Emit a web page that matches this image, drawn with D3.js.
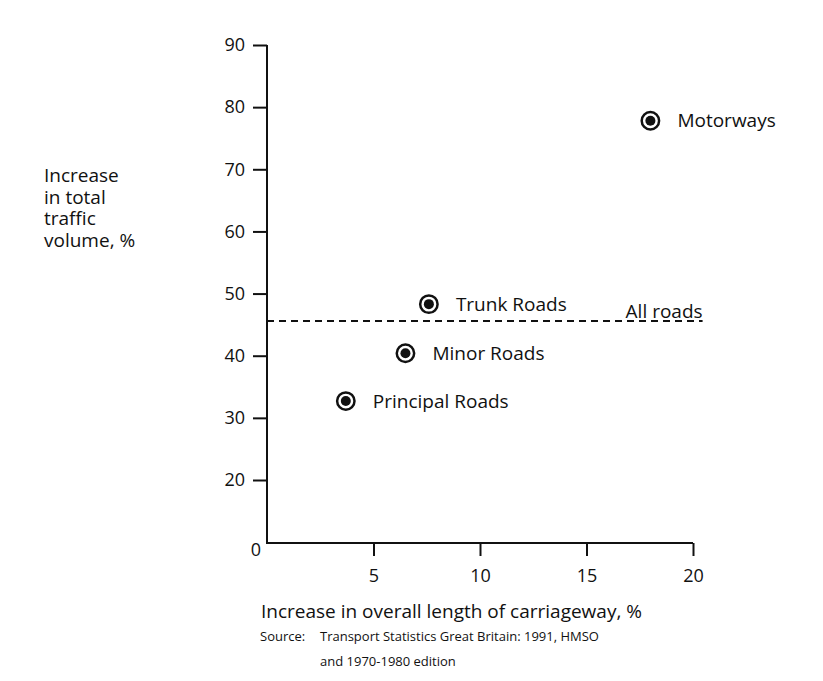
<!DOCTYPE html>
<html>
<head>
<meta charset="utf-8">
<script src="https://cdn.jsdelivr.net/npm/d3@7"></script>
<style>
  body { margin: 0; background: #fff; }
  text { font-family: "Open Sans", "Noto Sans", sans-serif; fill: #111; }
</style>
</head>
<body>
<svg id="chart" width="823" height="681"></svg>
<script>

// road classes and their growth, 1970s-1991
var roads = ["Motorways", "Trunk Roads", "Minor Roads", "Principal Roads"];
var lengthIncrease = [18.0, 7.6, 6.5, 3.7];     // % increase in carriageway length
var trafficIncrease = [77.8, 48.3, 40.4, 32.7]; // % increase in traffic volume
var allRoads = 45.6;                             // all roads, traffic increase

var xTicks = [5, 10, 15, 20];
var yTicks = [20, 30, 40, 50, 60, 70, 80, 90];
var yTitle = ["Increase", "in total", "traffic", "volume, %"];
var xTitle = "Increase in overall length of carriageway, %";
var sourceLines = ["Transport Statistics Great Britain: 1991, HMSO", "and 1970-1980 edition"];

var svg = d3.select("#chart");

/* Scales: the y axis is broken between 0 and 20 */
var x = d3.scaleLinear().domain([0, 20]).range([267, 693]);
var y = d3.scaleLinear().domain([0, 20, 90]).range([543, 480, 45]);

/* Axes */
var yAxis = svg.append("g")
  .attr("transform", "translate(" + x(0) + ",0)")
  .call(d3.axisLeft(y).tickValues(yTicks).tickSize(14).tickPadding(8).tickSizeOuter(0));

var xAxis = svg.append("g")
  .attr("transform", "translate(0," + y(0) + ")")
  .call(d3.axisBottom(x).tickValues(xTicks).tickSize(13).tickPadding(13).tickSizeOuter(0));

[yAxis, xAxis].forEach(function(g) {
  g.selectAll(".domain").attr("stroke", "#111").attr("stroke-width", 2);
  g.selectAll(".tick line").attr("stroke", "#111").attr("stroke-width", 2);
  g.selectAll(".tick text").style("font-size", "18px").attr("fill", "#111");
});

// domain lines should meet at the origin
yAxis.select(".domain").attr("d", "M0," + y(90) + "V" + (y(0) + 1));
xAxis.select(".domain").attr("d", "M" + (x(0) - 1) + ",0H" + x(20));

/* Origin label */
svg.append("text")
  .attr("x", x(0) - 6)
  .attr("y", y(0) + 13)
  .attr("text-anchor", "end")
  .style("font-size", "18px")
  .text("0");

/* All roads reference line */
svg.append("line")
  .attr("x1", x(0))
  .attr("x2", x(20.45))
  .attr("y1", y(allRoads))
  .attr("y2", y(allRoads))
  .attr("stroke", "#111")
  .attr("stroke-width", 2)
  .attr("stroke-dasharray", "7,5");

svg.append("text")
  .attr("x", x(20.45))
  .attr("y", y(allRoads) - 3)
  .attr("text-anchor", "end")
  .style("font-size", "19px")
  .text("All roads");

/* Points */
var points = svg.selectAll(".point")
  .data(roads.map(function(name, i) {
    return {name: name, x: lengthIncrease[i], y: trafficIncrease[i]};
  }))
  .enter().append("g")
  .attr("class", "point")
  .attr("transform", function(d) { return "translate(" + x(d.x) + "," + y(d.y) + ")"; });

points.append("circle")
  .attr("r", 8.7)
  .attr("fill", "#fff")
  .attr("stroke", "#111")
  .attr("stroke-width", 2.5);

points.append("circle")
  .attr("r", 5)
  .attr("fill", "#111");

points.append("text")
  .attr("x", 27)
  .attr("dy", "0.35em")
  .style("font-size", "19px")
  .text(function(d) { return d.name; });

/* Titles */
svg.append("text")
  .attr("x", 44)
  .attr("y", 182)
  .style("font-size", "19px")
  .selectAll("tspan")
  .data(yTitle)
  .enter().append("tspan")
  .attr("x", 44)
  .attr("dy", function(d, i) { return i ? 21.5 : 0; })
  .text(function(d) { return d; });

svg.append("text")
  .attr("x", 261)
  .attr("y", 618)
  .style("font-size", "19px")
  .text(xTitle);

/* Source note */
svg.append("text")
  .attr("x", 260)
  .attr("y", 641)
  .style("font-size", "13px")
  .text("Source:");

svg.append("text")
  .attr("x", 320)
  .attr("y", 641)
  .style("font-size", "13px")
  .selectAll("tspan")
  .data(sourceLines)
  .enter().append("tspan")
  .attr("x", 320)
  .attr("dy", function(d, i) { return i ? 25 : 0; })
  .text(function(d) { return d; });

</script>
</body>
</html>
